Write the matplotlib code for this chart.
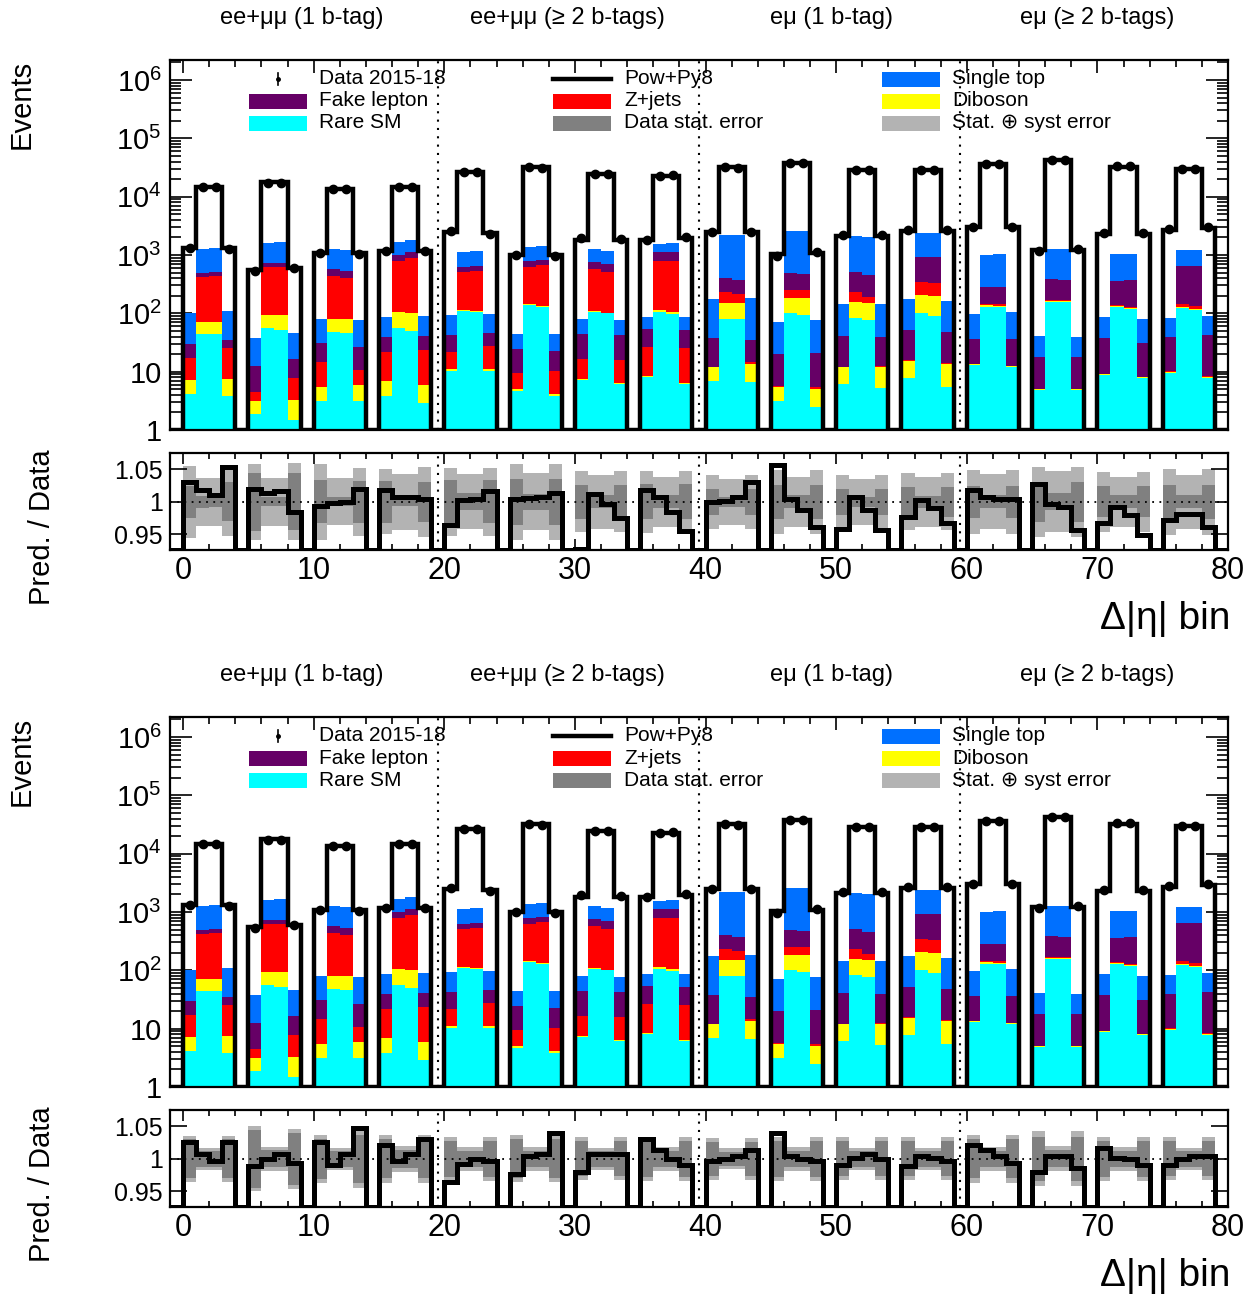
import matplotlib.pyplot as plt
import numpy as np
from matplotlib.patches import Rectangle
from matplotlib.lines import Line2D
from matplotlib.ticker import FixedLocator, MultipleLocator, LogLocator, NullFormatter

plt.rcParams['font.family'] = ['Liberation Sans', 'DejaVu Sans']
plt.rcParams['mathtext.fontset'] = 'custom'
plt.rcParams['mathtext.rm'] = 'Liberation Sans'
plt.rcParams['mathtext.it'] = 'Liberation Sans:italic'

# 16 regions of 5 bins; only the first 4 bins of every region are filled
regions = ['ee+μμ (1 b-tag)', 'ee+μμ (≥ 2 b-tags)', 'eμ (1 b-tag)', 'eμ (≥ 2 b-tags)']

rare_sm = [[4.1, 44, 45, 3.9], [1.9, 57, 52, 1.5], [3.1, 47, 46, 3.1], [3.9, 57, 50, 2.9],
           [10.4, 110, 107, 10.4], [4.7, 137, 130, 3.9], [7.2, 104, 100, 6.1], [8.2, 104, 96, 6.1],
           [6.9, 80, 80, 6.7], [3.1, 100, 94, 2.5], [6.2, 84, 77, 5.2], [7.8, 101, 91, 5.5],
           [13, 130, 130, 12], [4.8, 158, 158, 4.9], [8.7, 127, 117, 7.7], [9.6, 122, 114, 7.9]]
diboson = [[3.1, 28, 27, 3.7], [1.2, 38, 41, 1.8], [2.3, 32, 33, 2.7], [2.9, 47, 51, 2.9],
           [0.6, 4, 4, 0.6], [0.3, 6, 5, 0.2], [0.3, 4, 1, 0.4], [0.3, 10, 8, 0.4],
           [5.0, 68, 68, 6.8], [2.4, 86, 92, 2.6], [5.7, 74, 75, 7.0], [7.6, 105, 107, 7.9],
           [0.4, 9, 5, 0.3], [0.2, 7, 5, 0.1], [0.3, 7, 8, 0.3], [0.4, 8, 6, 0.3]]
zjets = [[9.7, 353, 364, 18], [1.3, 520, 538, 4.4], [9.1, 358, 325, 4.9], [15, 685, 776, 18],
         [11, 404, 421, 16], [4.4, 488, 530, 6.3], [9.0, 467, 417, 9.3], [18, 675, 685, 19],
         [0.3, 87, 66, 0.9], [0.2, 65, 65, 0.4], [0.3, 77, 41, 0.3], [0.4, 134, 129, 0.5],
         [0.4, 6, 8, 0.1], [0.1, 6, 6, 0.1], [0.1, 3, 5, 0.2], [0.1, 15, 15, 0.1]]
fake = [[13, 60, 76, 9.4], [8.1, 104, 108, 8.8], [16, 138, 128, 16], [17, 211, 234, 17],
        [20, 113, 115, 19], [15, 158, 155, 12], [27, 184, 183, 26], [27, 336, 322, 26],
        [26, 173, 158, 20], [14, 234, 221, 15], [29, 283, 261, 27], [36, 596, 609, 34],
        [22, 142, 144, 24], [13, 217, 203, 13], [29, 221, 242, 23], [29, 502, 512, 35]]
single_top = [[70, 765, 788, 73], [26, 866, 931, 30], [49, 675, 687, 50], [49, 694, 696, 50],
              [51, 509, 539, 51], [19, 601, 625, 22], [36, 491, 485, 35], [32, 438, 474, 36],
              [138, 1795, 1831, 146], [52, 2127, 2140, 55], [104, 1602, 1607, 105], [124, 1479, 1479, 117],
              [61, 727, 753, 67], [22, 862, 894, 21], [47, 668, 654, 49], [45, 572, 572, 46]]
pred_total = [[1340, 14800, 14800, 1340], [553, 17600, 17600, 590], [1070, 13500, 13500, 1070],
              [1190, 14500, 14500, 1190], [2450, 26100, 26100, 2350], [990, 31800, 31800, 990],
              [1810, 24500, 24500, 1810], [1810, 22900, 22900, 1950], [2510, 31800, 31800, 2510],
              [1030, 37200, 37200, 1070], [2120, 28600, 28600, 2120], [2580, 28600, 28600, 2580],
              [3060, 36300, 36300, 3060], [1220, 42600, 42600, 1220], [2260, 32700, 32700, 2260],
              [2690, 29400, 29400, 2860]]
data = [[1300, 14540, 14650, 1270], [542, 17360, 17300, 599], [1076, 13530, 13500, 1049],
        [1169, 14400, 14400, 1185], [2541, 26020, 25990, 2311], [986, 31610, 31550, 976],
        [1950, 24210, 24570, 1856], [1778, 22720, 23250, 2042], [2512, 31740, 31550, 2435],
        [975, 37050, 37650, 1112], [2211, 28370, 28980, 2218], [2641, 28510, 28890, 2668],
        [3006, 36010, 36160, 3048], [1187, 42730, 42940, 1276], [2337, 32960, 33370, 2381],
        [2767, 29940, 29970, 2973]]

# upper figure: ratio and half-widths of the two bands
ratio_top = [[1.030, 1.018, 1.010, 1.054], [1.020, 1.014, 1.017, 0.985], [0.994, 0.998, 1.000, 1.020],
             [1.018, 1.007, 1.007, 1.004], [0.964, 1.003, 1.004, 1.017], [1.004, 1.006, 1.008, 1.014],
             [0.928, 1.012, 0.997, 0.975], [1.018, 1.008, 0.985, 0.955], [0.999, 1.002, 1.008, 1.031],
             [1.056, 1.004, 0.988, 0.962], [0.959, 1.008, 0.987, 0.956], [0.977, 1.003, 0.990, 0.967],
             [1.018, 1.008, 1.004, 1.004], [1.028, 0.997, 0.992, 0.956], [0.967, 0.992, 0.980, 0.949],
             [0.972, 0.982, 0.981, 0.962]]
stat_top = [[0.025, 0.009, 0.008, 0.030], [0.045, 0.007, 0.007, 0.044], [0.033, 0.007, 0.007, 0.032],
            [0.032, 0.007, 0.007, 0.031], [0.033, 0.013, 0.013, 0.033], [0.035, 0.012, 0.012, 0.035],
            [0.026, 0.010, 0.010, 0.026], [0.027, 0.010, 0.010, 0.027], [0.020, 0.008, 0.008, 0.020],
            [0.026, 0.010, 0.010, 0.026], [0.020, 0.008, 0.008, 0.020], [0.023, 0.009, 0.009, 0.023],
            [0.025, 0.010, 0.010, 0.025], [0.031, 0.013, 0.013, 0.031], [0.024, 0.010, 0.010, 0.024],
            [0.026, 0.010, 0.010, 0.026]]
tot_top = [[0.055, 0.037, 0.037, 0.052], [0.058, 0.037, 0.037, 0.059], [0.058, 0.036, 0.036, 0.052],
           [0.050, 0.043, 0.043, 0.054], [0.052, 0.042, 0.042, 0.052], [0.058, 0.044, 0.044, 0.058],
           [0.047, 0.041, 0.041, 0.047], [0.048, 0.038, 0.038, 0.048], [0.041, 0.035, 0.035, 0.041],
           [0.049, 0.038, 0.038, 0.049], [0.041, 0.035, 0.035, 0.041], [0.044, 0.038, 0.038, 0.044],
           [0.049, 0.042, 0.042, 0.049], [0.054, 0.047, 0.047, 0.054], [0.046, 0.038, 0.038, 0.046],
           [0.051, 0.041, 0.041, 0.051]]

# lower figure
ratio_bot = [[1.026, 1.008, 0.996, 1.026], [0.989, 1.000, 1.007, 0.994], [1.026, 0.990, 1.008, 1.047],
             [1.022, 0.997, 1.008, 1.030], [0.965, 0.992, 1.000, 0.996], [0.976, 1.004, 1.007, 1.040],
             [0.979, 1.007, 1.008, 1.008], [1.030, 1.014, 1.000, 0.991], [0.996, 1.000, 1.005, 1.014],
             [1.040, 1.004, 1.000, 0.996], [0.991, 1.002, 1.008, 0.999], [0.989, 1.004, 1.002, 0.996],
             [1.022, 1.014, 1.004, 0.994], [0.979, 1.004, 1.004, 0.986], [1.017, 1.002, 0.999, 0.990],
             [0.991, 0.999, 1.005, 1.004]]
stat_bot = [[0.030, 0.012, 0.012, 0.030], [0.045, 0.013, 0.013, 0.040], [0.031, 0.012, 0.012, 0.037],
            [0.030, 0.014, 0.014, 0.030], [0.028, 0.012, 0.012, 0.028], [0.030, 0.012, 0.012, 0.030],
            [0.027, 0.012, 0.012, 0.027], [0.028, 0.012, 0.012, 0.028], [0.026, 0.011, 0.011, 0.026],
            [0.028, 0.012, 0.012, 0.028], [0.027, 0.012, 0.012, 0.027], [0.027, 0.012, 0.012, 0.027],
            [0.030, 0.012, 0.012, 0.030], [0.034, 0.013, 0.013, 0.034], [0.028, 0.012, 0.012, 0.028],
            [0.027, 0.012, 0.012, 0.027]]
tot_bot = [[0.035, 0.017, 0.017, 0.035], [0.050, 0.018, 0.018, 0.046], [0.037, 0.017, 0.017, 0.045],
           [0.037, 0.020, 0.020, 0.037], [0.034, 0.018, 0.018, 0.034], [0.036, 0.018, 0.018, 0.036],
           [0.033, 0.017, 0.017, 0.033], [0.034, 0.018, 0.018, 0.034], [0.032, 0.016, 0.016, 0.032],
           [0.034, 0.018, 0.018, 0.034], [0.033, 0.017, 0.017, 0.033], [0.033, 0.017, 0.017, 0.033],
           [0.037, 0.018, 0.018, 0.037], [0.042, 0.019, 0.019, 0.042], [0.034, 0.018, 0.018, 0.034],
           [0.033, 0.017, 0.017, 0.033]]

colors = {'rare': '#00FFFF', 'dib': '#FFFF00', 'z': '#FF0000', 'fake': '#660066',
          'st': '#0070FF', 'stat': '#808080', 'tot': '#B3B3B3'}


def to_bins(groups):
    out = np.zeros(80)
    for g, vals in enumerate(groups):
        out[5 * g:5 * g + 4] = vals
    return out


W, H = 1258, 1297
fig = plt.figure(figsize=(W / 100, H / 100), dpi=100)


def fx(px):
    return px / W


def fy(py):
    return 1 - py / H


def add_axes(left, top, right, bottom):
    return fig.add_axes([fx(left), fy(bottom), fx(right - left), (bottom - top) / H])


x_left = np.arange(80)
edges = np.arange(-1, 81)
ymin, ymax = 1.0, 2.2e6
rlo, rhi = 0.926, 1.075


def draw_panel(off, ratio, stat, tot):
    ax = add_axes(170, 60 + off, 1228, 430 + off)
    bottom = np.zeros(80)
    for vals, c in [(rare_sm, 'rare'), (diboson, 'dib'), (zjets, 'z'), (fake, 'fake'), (single_top, 'st')]:
        v = to_bins(vals)
        ax.bar(x_left, v, width=1, bottom=bottom, align='edge', color=colors[c], linewidth=0, zorder=2)
        bottom += v
    total = to_bins(pred_total)
    ax.stairs(np.concatenate([[ymin], np.where(total > 0, total, ymin)]), edges, baseline=None,
              color='k', lw=3.2, zorder=3)
    d = to_bins(data)
    m = d > 0
    ax.plot(x_left[m] + 0.5, d[m], 'o', color='k', ms=6, zorder=4)
    ax.set_yscale('log')
    ax.set_ylim(ymin, ymax)
    ax.set_xlim(-1, 80)
    ax.yaxis.set_major_locator(FixedLocator([1, 10, 1e2, 1e3, 1e4, 1e5, 1e6]))
    ax.set_yticklabels(['1', '10', '$10^{2}$', '$10^{3}$', '$10^{4}$', '$10^{5}$', '$10^{6}$'])
    ax.yaxis.set_minor_locator(LogLocator(base=10, subs=np.arange(2, 10), numticks=20))
    ax.yaxis.set_minor_formatter(NullFormatter())
    ax.xaxis.set_major_locator(MultipleLocator(10))
    ax.xaxis.set_minor_locator(MultipleLocator(2))
    ax.tick_params(which='both', direction='in', top=True, right=True, labelbottom=False, width=1.2)
    ax.tick_params(axis='y', which='major', length=16, labelsize=21, pad=6)
    ax.tick_params(axis='y', which='minor', length=8)
    ax.tick_params(axis='x', which='major', length=9)
    ax.tick_params(axis='x', which='minor', length=5)

    axr = add_axes(170, 453 + off, 1228, 550 + off)
    t = to_bins(tot)
    s = to_bins(stat)
    axr.bar(x_left, 2 * t, bottom=1 - t, width=1, align='edge', color=colors['tot'], linewidth=0, zorder=1)
    axr.bar(x_left, 2 * s, bottom=1 - s, width=1, align='edge', color=colors['stat'], linewidth=0, zorder=2)
    axr.axhline(1, color='k', ls=(0, (1, 3)), lw=1.3, zorder=3)
    r = to_bins(ratio)
    r = np.maximum(np.where(r > 0, r, rlo), rlo)
    axr.stairs(np.concatenate([[rlo], r]), edges, baseline=None, color='k', lw=3.6, zorder=4)
    axr.set_xlim(-1, 80)
    axr.set_ylim(rlo, rhi)
    axr.set_yticks([0.95, 1.0, 1.05])
    axr.set_yticklabels(['0.95', '1', '1.05'])
    axr.xaxis.set_major_locator(MultipleLocator(10))
    axr.xaxis.set_minor_locator(MultipleLocator(2))
    axr.tick_params(which='both', direction='in', top=True, right=True, width=1.2)
    axr.tick_params(axis='y', length=12, labelsize=18, pad=5)
    axr.tick_params(axis='x', which='major', length=8, labelsize=22, pad=4)
    axr.tick_params(axis='x', which='minor', length=4)

    for a in (ax, axr):
        for sp in a.spines.values():
            sp.set_linewidth(1.6)
        for xv in (19.5, 39.5, 59.5):
            a.axvline(xv, color='k', ls=(0, (1, 3)), lw=1.5, zorder=5)

    # region titles
    for xc, lab in zip([302, 567, 832, 1097], regions):
        fig.text(fx(xc), fy(18 + off), lab, ha='center', va='center', fontsize=17)

    # axis titles
    fig.text(fx(22), fy(60 + off), 'Events', rotation=90, ha='center', va='top', fontsize=21)
    fig.text(fx(42), fy(449 + off), 'Pred. / Data', rotation=90, ha='center', va='top', fontsize=21)
    fig.text(fx(1230), fy(629 + off), 'Δ|η| bin', ha='right', va='baseline', fontsize=28)

    # legend
    rows = [79 + off, 101 + off, 123 + off]
    entries = [
        (249, 319, rows[0], 'data', 'Data 2015-18'),
        (249, 319, rows[1], colors['fake'], 'Fake lepton'),
        (249, 319, rows[2], colors['rare'], 'Rare SM'),
        (553, 624, rows[0], 'line', 'Pow+Py8'),
        (553, 624, rows[1], colors['z'], 'Z+jets'),
        (553, 624, rows[2], colors['stat'], 'Data stat. error'),
        (882, 952, rows[0], colors['st'], 'Single top'),
        (882, 952, rows[1], colors['dib'], 'Diboson'),
        (882, 952, rows[2], colors['tot'], 'Stat. ⊕ syst error'),
    ]
    for x0, xt, yc, kind, lab in entries:
        if kind == 'data':
            fig.add_artist(Line2D([fx(x0 + 29)] * 2, [fy(yc - 6), fy(yc + 6)], color='k', lw=1.2))
            fig.add_artist(Line2D([fx(x0 + 29)], [fy(yc)], marker='o', ms=2.5, color='k'))
        elif kind == 'line':
            fig.add_artist(Line2D([fx(x0), fx(x0 + 58)], [fy(yc)] * 2, color='k', lw=3.2))
        else:
            fig.add_artist(Rectangle((fx(x0), fy(yc + 7.5)), fx(58), 15 / H, facecolor=kind,
                                     edgecolor='none', transform=fig.transFigure))
        fig.text(fx(xt), fy(yc), lab, ha='left', va='center', fontsize=15)


draw_panel(0, ratio_top, stat_top, tot_top)
draw_panel(657, ratio_bot, stat_bot, tot_bot)

fig.savefig('out.png', dpi=100)
